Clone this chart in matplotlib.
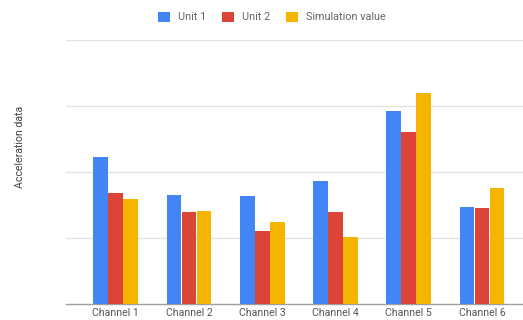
import numpy as np
import matplotlib
matplotlib.use("Agg")
import matplotlib.pyplot as plt

channels = ["Channel 1", "Channel 2", "Channel 3", "Channel 4", "Channel 5", "Channel 6"]
unit1 = [2.23, 1.65, 1.64, 1.87, 2.92, 1.47]
unit2 = [1.68, 1.40, 1.11, 1.40, 2.60, 1.45]
simulation = [1.59, 1.41, 1.24, 1.02, 3.20, 1.76]
series_names = ["Unit 1", "Unit 2", "Simulation value"]
colors = ["#4285F4", "#DB4437", "#F4B400"]

plt.rcParams["font.family"] = ["Roboto", "DejaVu Sans"]

fig = plt.figure(figsize=(5.23, 3.2), dpi=100)
ax = fig.add_axes([0.126, 0.05, 0.874, 0.825])

x = np.arange(len(channels))
w = 0.2
for i, (vals, name, col) in enumerate(zip([unit1, unit2, simulation], series_names, colors)):
    ax.bar(x + (i - 1) * 0.205, vals, width=w, color=col, label=name, zorder=3)

ax.set_xlim(-0.68, 5.56)
ax.set_ylim(0, 4)
ax.set_yticks([1, 2, 3, 4])
ax.set_yticklabels([])
ax.yaxis.grid(True, color="#e3e3e3", linewidth=1.0, zorder=0)
ax.tick_params(axis="y", length=0)
ax.set_xticks(x)
ax.set_xticklabels(channels, fontsize=7.6, color="#555555")
ax.tick_params(axis="x", length=0, pad=3)
for s in ["top", "right", "left"]:
    ax.spines[s].set_visible(False)
ax.spines["bottom"].set_color("#9e9e9e")
ax.spines["bottom"].set_linewidth(1.0)

fig.text(0.038, 0.54, "Acceleration data", rotation=90, ha="center", va="center",
         fontsize=7.6, color="#444444")

fig.legend(loc="center", bbox_to_anchor=(0.52, 0.947), ncol=3, frameon=False,
           fontsize=7.8, labelcolor="#666666", handlelength=1.1, handleheight=1.1,
           handletextpad=0.7, columnspacing=1.5)

fig.savefig("out.png", dpi=100)
